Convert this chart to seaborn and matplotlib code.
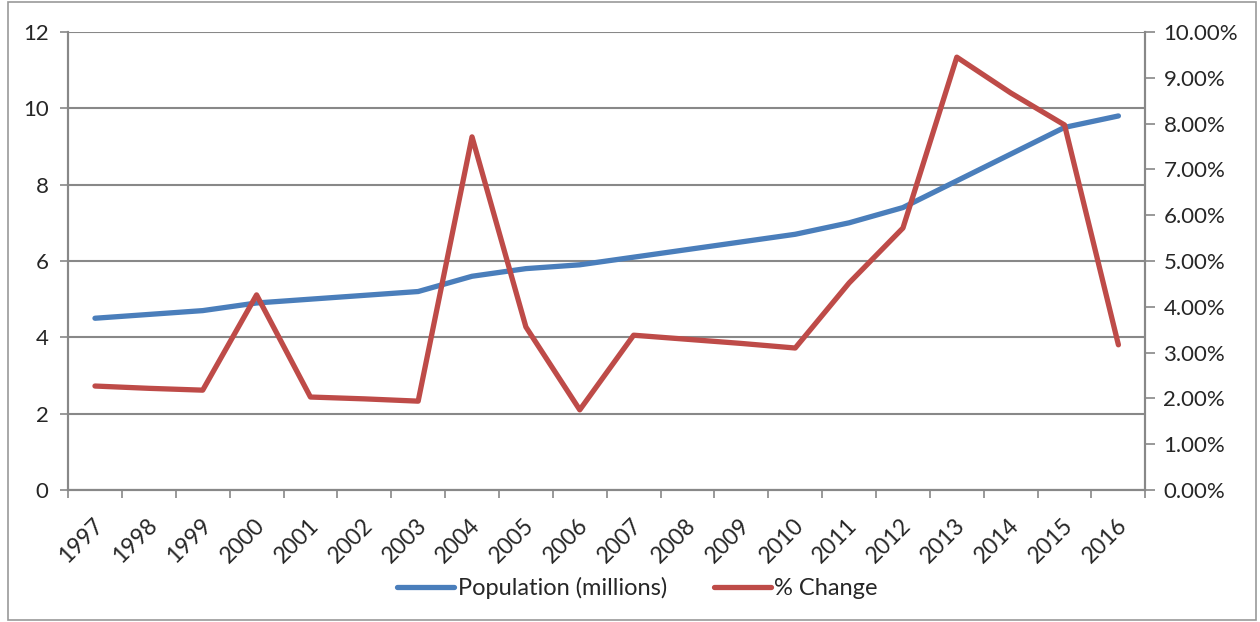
import pandas as pd
import matplotlib
matplotlib.use("Agg")
import matplotlib.pyplot as plt
import matplotlib.transforms as mtransforms
from matplotlib.patches import Rectangle
from matplotlib.ticker import FuncFormatter
import seaborn as sns

years = [1997, 1998, 1999, 2000, 2001, 2002, 2003, 2004, 2005, 2006,
         2007, 2008, 2009, 2010, 2011, 2012, 2013, 2014, 2015, 2016]
population = [4.5, 4.6, 4.7, 4.9, 5.0, 5.1, 5.2, 5.6, 5.8, 5.9,
              6.1, 6.3, 6.5, 6.7, 7.0, 7.4, 8.1, 8.8, 9.5, 9.8]
pct_change = [2.27, 2.22, 2.18, 4.26, 2.03, 1.99, 1.94, 7.71, 3.56, 1.75,
              3.38, 3.29, 3.20, 3.10, 4.52, 5.72, 9.45, 8.67, 7.97, 3.17]

blue = "#4A7EBB"
red = "#BE4B48"
grid_col = "#888888"

sns.set_style("white")
plt.rcParams["font.family"] = ["Lato", "DejaVu Sans"]

df = pd.DataFrame({"pos": range(len(years)), "year": years,
                   "pop": population, "chg": pct_change})

fig = plt.figure(figsize=(12.6, 6.22), dpi=100)
ax = fig.add_axes([0.054, 0.2122, 0.855, 0.7364])
ax2 = ax.twinx()

sns.lineplot(data=df, x="pos", y="pop", ax=ax, color=blue, lw=3.8,
             label="Population (millions)", legend=False)
sns.lineplot(data=df, x="pos", y="chg", ax=ax2, color=red, lw=3.8,
             label="% Change", legend=False)

ax.set_xlim(-0.5, len(years) - 0.5)
ax.set_ylim(0, 12)
ax2.set_ylim(0, 10)
ax.set_yticks(range(0, 13, 2))
ax2.set_yticks(range(0, 11))
ax2.yaxis.set_major_formatter(FuncFormatter(lambda v, p: f"{v:.2f}%"))

ax.set_xticks(range(len(years)))
ax.set_xticklabels(years, rotation=45, ha="right", va="center",
                   rotation_mode="anchor")
ax.set_xticks([i - 0.5 for i in range(len(years) + 1)], minor=True)
ax.tick_params(axis="x", which="both", bottom=True)
ax.tick_params(axis="x", which="major", length=0, pad=23, labelsize=16.5)
ax.tick_params(axis="x", which="minor", length=6, color=grid_col, width=1.2)
ax.tick_params(axis="y", left=True, length=6, color=grid_col, width=1.2,
               labelsize=16, pad=8)
ax2.tick_params(axis="y", right=True, length=7, color=grid_col, width=1.2,
                labelsize=16, pad=6)
offset = mtransforms.ScaledTranslation(0.05, 0, fig.dpi_scale_trans)
for lab in ax.get_xticklabels():
    lab.set_transform(lab.get_transform() + offset)

ax.grid(axis="y", color=grid_col, lw=1.5)
ax.set_axisbelow(True)
ax.set_xlabel("")
ax.set_ylabel("")
ax2.set_ylabel("")
for a in (ax, ax2):
    a.spines["top"].set_visible(False)
    for s in ("left", "right", "bottom"):
        a.spines[s].set_color(grid_col)
        a.spines[s].set_linewidth(1.5)

h1, l1 = ax.get_legend_handles_labels()
h2, l2 = ax2.get_legend_handles_labels()
fig.legend(h1 + h2, l1 + l2, loc="center", bbox_to_anchor=(0.506, 0.055),
           ncol=2, frameon=False, fontsize=17, handlelength=2.4,
           columnspacing=2.0, handletextpad=0.15)

fig.add_artist(Rectangle((0.006, 0.003), 0.991, 0.994, transform=fig.transFigure,
                         fill=False, edgecolor="#999999", lw=1.2))

fig.savefig("out.png", dpi=100)
